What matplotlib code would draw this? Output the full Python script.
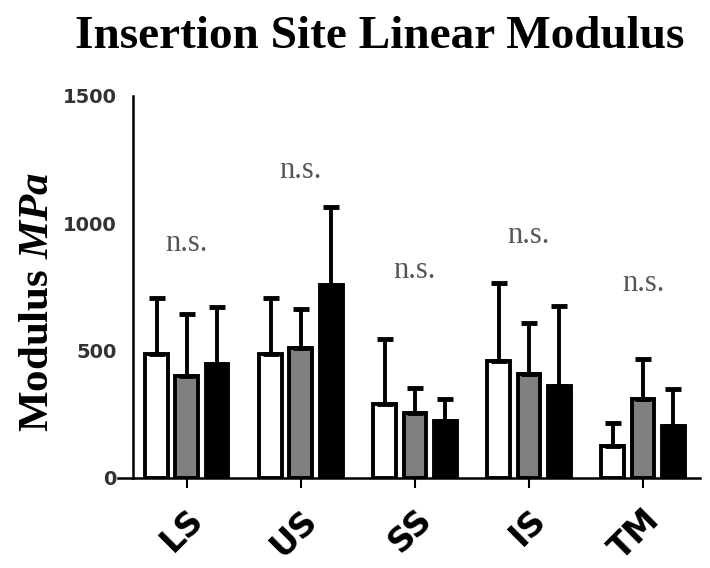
import numpy as np
import matplotlib.pyplot as plt

# data
sites = ['LS', 'US', 'SS', 'IS', 'TM']
white_mean = [488, 488, 291, 461, 126]
white_sd = [217, 217, 256, 303, 91]
gray_mean = [402, 512, 256, 409, 311]
gray_sd = [243, 153, 98, 201, 158]
black_mean = [449, 756, 224, 362, 205]
black_sd = [221, 307, 87, 315, 145]
ns_height = [921, 1208, 815, 953, 764]

plt.rcParams['mathtext.fontset'] = 'custom'
plt.rcParams['mathtext.it'] = 'Liberation Serif:italic:bold'
plt.rcParams['mathtext.rm'] = 'Liberation Serif:bold'

fig = plt.figure(figsize=(7.1, 5.68), dpi=100)
ax = fig.add_axes([0.166, 0.1585, 0.82, 0.6725])

x = np.arange(len(sites))
w = 0.2
off = 0.265
err_kw = dict(ecolor='black', elinewidth=2.8, capsize=6, capthick=3.5)
for dx, means, sds, fc in [(-off, white_mean, white_sd, 'white'),
                           (0, gray_mean, gray_sd, '#808080'),
                           (off, black_mean, black_sd, 'black')]:
    ax.bar(x + dx, means, w, color=fc, edgecolor='black', linewidth=2.8,
           yerr=[np.zeros(len(sds)), sds], error_kw=err_kw, zorder=2)

for xi, h in zip(x, ns_height):
    ax.text(xi, h, 'n.s.', ha='center', va='center', fontsize=22,
            family='Liberation Serif', color='#555555')

ax.set_xlim(-0.605, 4.5)
ax.set_ylim(0, 1500)
ax.spines['top'].set_visible(False)
ax.spines['right'].set_visible(False)
ax.spines['left'].set_position(('data', -0.47))
ax.spines['left'].set_linewidth(1.8)
ax.spines['bottom'].set_linewidth(1.8)

ax.set_yticks([0, 500, 1000, 1500])
ax.tick_params(axis='y', length=0, pad=12, labelsize=14, labelcolor='#333333')
for lbl in ax.get_yticklabels():
    lbl.set_fontweight('bold')

ax.set_xticks(x)
ax.set_xticklabels(sites, rotation=45, ha='right', rotation_mode='anchor',
                   fontsize=24, fontweight='bold')
ax.tick_params(axis='x', length=7, width=1.5, pad=11)

ax.set_ylabel('Modulus $\\mathit{MPa}$', fontsize=31, fontweight='bold',
              family='Liberation Serif')
ax.yaxis.set_label_coords(-0.105, 0.46)

fig.text(0.535, 0.935, 'Insertion Site Linear Modulus', ha='center', va='center',
         fontsize=34, fontweight='bold', family='Liberation Serif')

fig.savefig('out.png', dpi=100)
